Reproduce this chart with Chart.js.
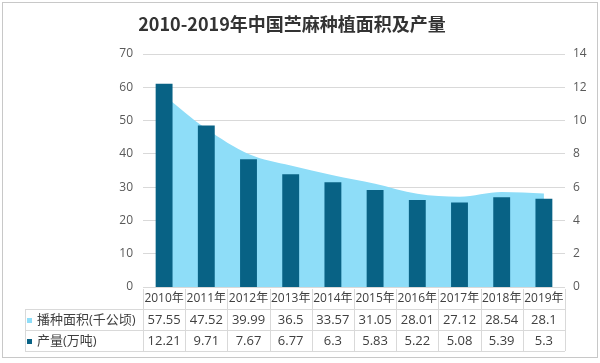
<!DOCTYPE html>
<html>
<head>
<meta charset="utf-8">
<script src="https://cdn.jsdelivr.net/npm/chart.js@4/dist/chart.umd.min.js"></script>
<style>
  html, body { margin: 0; padding: 0; background: #fff; }
  #wrap { width: 600px; height: 363px; }
</style>
</head>
<body>
<div id="wrap"><canvas id="chart" width="600" height="363"></canvas></div>
<script>
// data
const years = ['2010年', '2011年', '2012年', '2013年', '2014年', '2015年', '2016年', '2017年', '2018年', '2019年'];
const areaValues = [57.55, 47.52, 39.99, 36.5, 33.57, 31.05, 28.01, 27.12, 28.54, 28.1];
const outputValues = [12.21, 9.71, 7.67, 6.77, 6.3, 5.83, 5.22, 5.08, 5.39, 5.3];
const seriesNames = ['播种面积(千公顷)', '产量(万吨)'];
const leftAxis = { max: 70, step: 10 };
const rightAxis = { max: 14, step: 2 };
const title = '2010-2019年中国苎麻种植面积及产量';

const areaColor = '#8EDDF8';
const barColor = '#086285';
const textColor = '#404040';
const tickColor = '#595959';
const lineColor = '#D9D9D9';
const cjk = "'Open Sans', 'Noto Sans CJK SC', sans-serif";

// title, data table and frame drawn around the plot
const extras = {
  id: 'extras',
  beforeDraw(chart) {
    const ctx = chart.ctx;
    ctx.save();
    ctx.fillStyle = '#fff';
    ctx.fillRect(0, 0, chart.width, chart.height);
    ctx.restore();
  },
  afterDraw(chart) {
    const ctx = chart.ctx;
    const x = chart.scales.x;
    const area = chart.chartArea;
    const colW = (area.right - area.left) / years.length;
    const rowTop = area.bottom;
    const rows = [rowTop, rowTop + 22, rowTop + 43, rowTop + 64];
    const tableLeft = 25;

    ctx.save();
    // frame
    ctx.strokeStyle = '#C8C8C8';
    ctx.lineWidth = 1;
    ctx.strokeRect(2.5, 2.5, 595, 355);

    // title
    ctx.fillStyle = '#333';
    ctx.font = "bold 18px 'Noto Sans CJK SC', sans-serif";
    ctx.textAlign = 'center';
    ctx.textBaseline = 'middle';
    ctx.fillText(title, 292, 24);

    // table lines
    ctx.strokeStyle = lineColor;
    ctx.beginPath();
    for (let i = 1; i < rows.length; i++) {
      ctx.moveTo(tableLeft, rows[i] + 0.5);
      ctx.lineTo(area.right, rows[i] + 0.5);
    }
    ctx.moveTo(tableLeft + 0.5, rows[1]);
    ctx.lineTo(tableLeft + 0.5, rows[3]);
    for (let i = 0; i <= years.length; i++) {
      const lx = Math.round(area.left + i * colW) + 0.5;
      ctx.moveTo(lx, rows[0] + 2);
      ctx.lineTo(lx, rows[3]);
    }
    ctx.stroke();

    // header
    ctx.fillStyle = textColor;
    ctx.font = '12px ' + cjk;
    ctx.textAlign = 'center';
    years.forEach((y, i) => {
      ctx.fillText(y, x.getPixelForValue(i), (rows[0] + rows[1]) / 2 + 1);
    });

    // values
    ctx.font = '13px ' + cjk;
    [areaValues, outputValues].forEach((vals, r) => {
      const cy = (rows[r + 1] + rows[r + 2]) / 2 + 1;
      vals.forEach((v, i) => {
        ctx.fillText(String(v), x.getPixelForValue(i), cy);
      });
    });

    // row labels with legend keys
    ctx.textAlign = 'left';
    ctx.font = '13px ' + cjk;
    [areaColor, barColor].forEach((c, r) => {
      const cy = (rows[r + 1] + rows[r + 2]) / 2;
      ctx.fillStyle = c;
      ctx.fillRect(27, Math.round(cy) - 2, 5, 5);
      ctx.fillStyle = textColor;
      ctx.fillText(seriesNames[r], 37, cy + 1);
    });
    ctx.restore();
  }
};

new Chart(document.getElementById('chart'), {
  type: 'bar',
  data: {
    labels: years,
    datasets: [
      {
        type: 'bar',
        label: seriesNames[1],
        data: outputValues,
        yAxisID: 'y1',
        backgroundColor: barColor,
        categoryPercentage: 1,
        barPercentage: 0.4,
        order: 1
      },
      {
        type: 'line',
        label: seriesNames[0],
        data: areaValues,
        yAxisID: 'y',
        backgroundColor: areaColor,
        borderWidth: 0,
        pointRadius: 0,
        fill: 'origin',
        cubicInterpolationMode: 'monotone',
        order: 2
      }
    ]
  },
  options: {
    responsive: false,
    animation: false,
    devicePixelRatio: 1,
    layout: { padding: { top: 54, bottom: 76, left: 0, right: 0 } },
    plugins: {
      legend: { display: false },
      tooltip: { enabled: false }
    },
    scales: {
      x: {
        display: false,
        offset: true
      },
      y: {
        position: 'left',
        min: 0,
        max: leftAxis.max,
        afterFit: s => { s.width = 143; },
        ticks: { stepSize: leftAxis.step, padding: 10, color: tickColor, font: { size: 12, family: cjk } },
        grid: { color: lineColor, drawTicks: false },
        border: { display: false }
      },
      y1: {
        position: 'right',
        min: 0,
        max: rightAxis.max,
        afterFit: s => { s.width = 35; },
        ticks: { stepSize: rightAxis.step, padding: 8, color: tickColor, font: { size: 12, family: cjk } },
        grid: { display: false, drawTicks: false },
        border: { display: false }
      }
    }
  },
  plugins: [extras]
});
</script>
</body>
</html>
